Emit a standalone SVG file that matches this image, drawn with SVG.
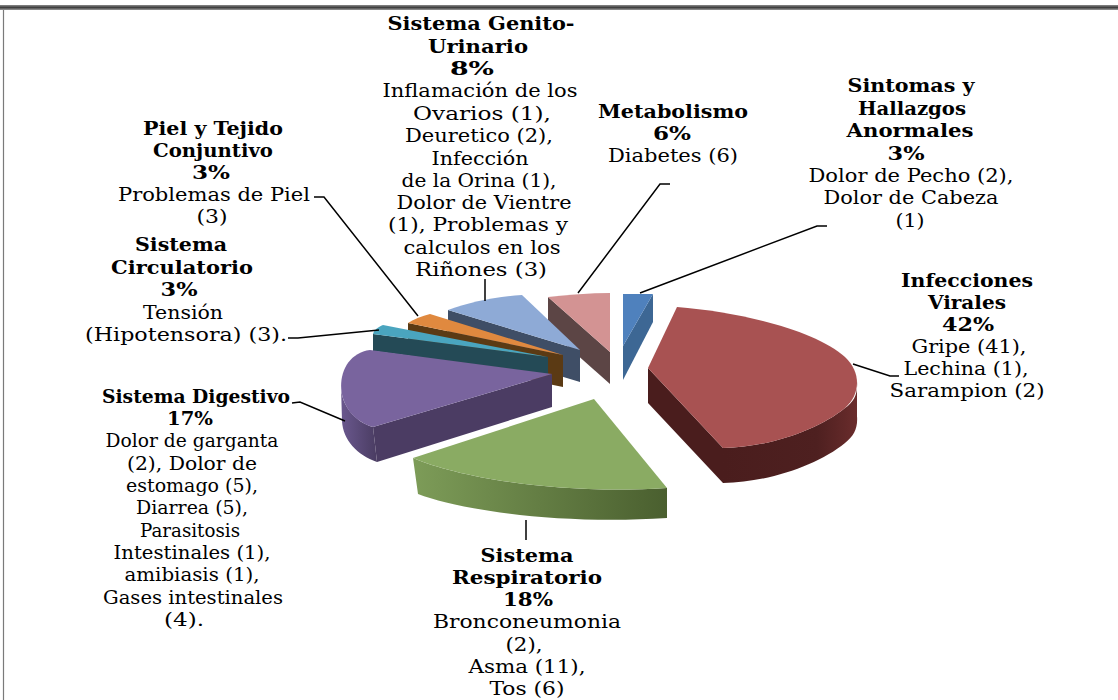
<svg xmlns="http://www.w3.org/2000/svg" width="1118" height="700" viewBox="0 0 1118 700">
<defs>
<linearGradient id="gWall" x1="0" y1="0" x2="1" y2="0">
<stop offset="0" stop-color="#7d9c58"/><stop offset="1" stop-color="#4a5f2f"/>
</linearGradient>
<linearGradient id="rWall" x1="0" y1="0" x2="1" y2="0">
<stop offset="0" stop-color="#4a1d1d"/><stop offset="0.7" stop-color="#4e2020"/><stop offset="1" stop-color="#6a2c2c"/>
</linearGradient>
<linearGradient id="pWall" x1="0" y1="0" x2="1" y2="0">
<stop offset="0" stop-color="#6a588e"/><stop offset="1" stop-color="#4a3c62"/>
</linearGradient>
<linearGradient id="topBar" x1="0" y1="0" x2="0" y2="1">
<stop offset="0" stop-color="#8a8a8a"/><stop offset="0.5" stop-color="#3f3f3f"/><stop offset="1" stop-color="#9a9a9a"/>
</linearGradient>
</defs>
<style>
text{font-family:"DejaVu Serif","Liberation Serif",serif;font-size:19px;fill:#000;text-anchor:middle}
.b{font-weight:bold}
.lead{fill:none;stroke:#000;stroke-width:1.5}
</style>
<rect x="0" y="0" width="1118" height="700" fill="#ffffff"/>
<rect x="0" y="5" width="1118" height="5" fill="url(#topBar)"/>
<line x1="3.5" y1="10" x2="3.5" y2="700" stroke="#7a7a7a" stroke-width="1.2"/>

<g id="metabolismo">
<path d="M548,297 L610,352 L610,384 L548,329 Z" fill="#5c4545"/>
<path d="M610,352 L548,297 C568,295 590,293 610,293 Z" fill="#d39393"/>
<text class="b" x="673" y="118" textLength="150" lengthAdjust="spacingAndGlyphs">Metabolismo</text>
<text class="b" x="672" y="140" textLength="38" lengthAdjust="spacingAndGlyphs">6%</text>
<text x="673" y="162" textLength="130" lengthAdjust="spacingAndGlyphs">Diabetes (6)</text>
</g>

<g id="sintomas">
<path d="M653,294 L653,322 L623,380 L623,346 Z" fill="#3d6794"/>
<path d="M623,346 L623,294 L653,294 Z" fill="#4f81bd"/>
<text class="b" x="911" y="92" textLength="127" lengthAdjust="spacingAndGlyphs">Sintomas y</text>
<text class="b" x="912" y="115" textLength="108" lengthAdjust="spacingAndGlyphs">Hallazgos</text>
<text class="b" x="910" y="137" textLength="127" lengthAdjust="spacingAndGlyphs">Anormales</text>
<text class="b" x="906" y="160" textLength="37" lengthAdjust="spacingAndGlyphs">3%</text>
<text x="911" y="182" textLength="205" lengthAdjust="spacingAndGlyphs">Dolor de Pecho (2),</text>
<text x="911" y="204" textLength="175" lengthAdjust="spacingAndGlyphs">Dolor de Cabeza</text>
<text x="910" y="227" textLength="29" lengthAdjust="spacingAndGlyphs">(1)</text>
</g>

<g id="genito-urinario">
<path d="M448,310 L580,350 L580,382 L448,342 Z" fill="#3f4e66"/>
<path d="M580,350 L448,310 C470,302 495,297 522,295 Z" fill="#8eaad6"/>
<text class="b" x="481" y="30" textLength="187" lengthAdjust="spacingAndGlyphs">Sistema Genito-</text>
<text class="b" x="478" y="53" textLength="100" lengthAdjust="spacingAndGlyphs">Urinario</text>
<text class="b" x="472" y="75" textLength="44" lengthAdjust="spacingAndGlyphs">8%</text>
<text x="480" y="97" textLength="195" lengthAdjust="spacingAndGlyphs">Inflamación de los</text>
<text x="482" y="120" textLength="138" lengthAdjust="spacingAndGlyphs">Ovarios (1),</text>
<text x="479" y="142" textLength="148" lengthAdjust="spacingAndGlyphs">Deuretico (2),</text>
<text x="480" y="165" textLength="97" lengthAdjust="spacingAndGlyphs">Infección</text>
<text x="479" y="187" textLength="155" lengthAdjust="spacingAndGlyphs">de la Orina (1),</text>
<text x="484" y="209" textLength="175" lengthAdjust="spacingAndGlyphs">Dolor de Vientre</text>
<text x="478" y="231" textLength="180" lengthAdjust="spacingAndGlyphs">(1), Problemas y</text>
<text x="482" y="254" textLength="157" lengthAdjust="spacingAndGlyphs">calculos en los</text>
<text x="481" y="276" textLength="132" lengthAdjust="spacingAndGlyphs">Riñones (3)</text>
</g>

<g id="piel">
<path d="M408,323 L563,355 L563,387 L408,355 Z" fill="#5b3a14"/>
<path d="M563,355 L408,323 C414,319 422,316 430,314 Z" fill="#e0893f"/>
<text class="b" x="213" y="135" textLength="140" lengthAdjust="spacingAndGlyphs">Piel y Tejido</text>
<text class="b" x="213" y="157" textLength="120" lengthAdjust="spacingAndGlyphs">Conjuntivo</text>
<text class="b" x="211" y="179" textLength="38" lengthAdjust="spacingAndGlyphs">3%</text>
<text x="214" y="201" textLength="192" lengthAdjust="spacingAndGlyphs">Problemas de Piel</text>
<text x="212" y="223" textLength="31" lengthAdjust="spacingAndGlyphs">(3)</text>
</g>

<g id="circulatorio">
<path d="M373,334 L548,357 L548,374 L373,351 Z" fill="#244a56"/>
<path d="M548,357 L383,325 C378,327 374,330 373,334 Z" fill="#4aa5bf"/>
<text class="b" x="181" y="251" textLength="92" lengthAdjust="spacingAndGlyphs">Sistema</text>
<text class="b" x="182" y="274" textLength="142" lengthAdjust="spacingAndGlyphs">Circulatorio</text>
<text class="b" x="179" y="296" textLength="37" lengthAdjust="spacingAndGlyphs">3%</text>
<text x="183" y="319" textLength="80" lengthAdjust="spacingAndGlyphs">Tensión</text>
<text x="186" y="341" textLength="202" lengthAdjust="spacingAndGlyphs">(Hipotensora) (3).</text>
</g>

<g id="digestivo">
<path d="M341,386 C341,405 355,422 373,427 L377,462 C357,455 343,440 342,421 Z" fill="url(#pWall)"/>
<path d="M373,427 L552,374 L552,407 L377,462 Z" fill="#4b3c63"/>
<path d="M552,374 L370,350 C332,355 330,415 373,427 Z" fill="#79649e"/>
<text class="b" x="196" y="403" textLength="188" lengthAdjust="spacingAndGlyphs">Sistema Digestivo</text>
<text class="b" x="190" y="425" textLength="46" lengthAdjust="spacingAndGlyphs">17%</text>
<text x="192" y="447" textLength="173" lengthAdjust="spacingAndGlyphs">Dolor de garganta</text>
<text x="192" y="470" textLength="130" lengthAdjust="spacingAndGlyphs">(2), Dolor de</text>
<text x="192" y="492" textLength="132" lengthAdjust="spacingAndGlyphs">estomago (5),</text>
<text x="192" y="514" textLength="112" lengthAdjust="spacingAndGlyphs">Diarrea (5),</text>
<text x="190" y="537" textLength="100" lengthAdjust="spacingAndGlyphs">Parasitosis</text>
<text x="192" y="559" textLength="157" lengthAdjust="spacingAndGlyphs">Intestinales (1),</text>
<text x="192" y="581" textLength="135" lengthAdjust="spacingAndGlyphs">amibiasis (1),</text>
<text x="193" y="604" textLength="180" lengthAdjust="spacingAndGlyphs">Gases intestinales</text>
<text x="184" y="626" textLength="40" lengthAdjust="spacingAndGlyphs">(4).</text>
</g>

<g id="respiratorio">
<path d="M413,458 C460,478 560,495 667,488 L667,518 C560,525 460,510 418,494 Z" fill="url(#gWall)"/>
<path d="M594,399 L413,458 C460,478 560,495 667,488 Z" fill="#8aab63"/>
<text class="b" x="527" y="562" textLength="93" lengthAdjust="spacingAndGlyphs">Sistema</text>
<text class="b" x="527" y="584" textLength="150" lengthAdjust="spacingAndGlyphs">Respiratorio</text>
<text class="b" x="528" y="606" textLength="50" lengthAdjust="spacingAndGlyphs">18%</text>
<text x="527" y="628" textLength="188" lengthAdjust="spacingAndGlyphs">Bronconeumonia</text>
<text x="524" y="651" textLength="37" lengthAdjust="spacingAndGlyphs">(2),</text>
<text x="527" y="673" textLength="117" lengthAdjust="spacingAndGlyphs">Asma (11),</text>
<text x="527" y="695" textLength="75" lengthAdjust="spacingAndGlyphs">Tos (6)</text>
</g>

<g id="infecciones-virales">
<path d="M648,368 L723,448 L723,483 L648,403 Z" fill="#4a1d1d"/>
<path d="M857,381 C858,394 854,402 845,408 C818,430 770,447 723,448 L723,483 C770,482 818,465 845,443 C854,436 858,428 857,416 Z" fill="url(#rWall)"/>
<path d="M648,368 L677,307 C740,312 815,330 845,357 C862,373 860,395 845,408 C818,430 770,447 723,448 Z" fill="#a85252"/>
<text class="b" x="967" y="287" textLength="132" lengthAdjust="spacingAndGlyphs">Infecciones</text>
<text class="b" x="967" y="309" textLength="78" lengthAdjust="spacingAndGlyphs">Virales</text>
<text class="b" x="968" y="331" textLength="52" lengthAdjust="spacingAndGlyphs">42%</text>
<text x="969" y="353" textLength="115" lengthAdjust="spacingAndGlyphs">Gripe (41),</text>
<text x="966" y="375" textLength="125" lengthAdjust="spacingAndGlyphs">Lechina (1),</text>
<text x="967" y="397" textLength="155" lengthAdjust="spacingAndGlyphs">Sarampion (2)</text>
</g>

<g id="connectors">
<polyline class="lead" points="485,279 485,301"/>
<polyline class="lead" points="314,197 324,197 418,316"/>
<polyline class="lead" points="288,338 298,338 379,330"/>
<polyline class="lead" points="292,403 300,402 345,421"/>
<polyline class="lead" points="670,184 660,184 578,293"/>
<polyline class="lead" points="827,226 817,226 640,293"/>
<polyline class="lead" points="853,364 890,376 899,376"/>
<polyline class="lead" points="526,520 526,540"/>
</g>
</svg>
